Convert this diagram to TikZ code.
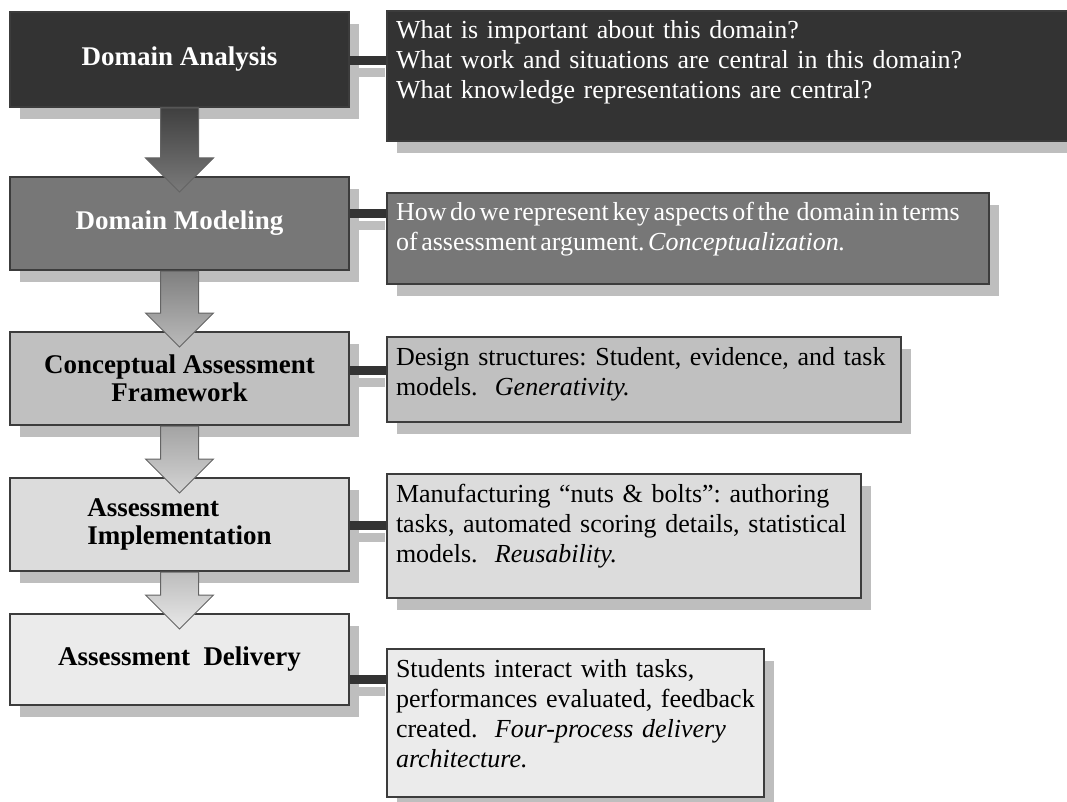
\documentclass[tikz,border=0pt]{standalone}
\usepackage{fontspec}
\setmainfont{Liberation Serif}
\usepackage{tikz}
\usetikzlibrary{positioning, calc, shadows}
\definecolor{StageDark}{RGB}{51,51,51}
\definecolor{StageMid}{RGB}{119,119,119}
\definecolor{StageLight}{RGB}{192,192,192}
\definecolor{StagePale}{RGB}{220,220,220}
\definecolor{StageWhite}{RGB}{235,235,235}
\definecolor{EdgeGray}{RGB}{60,60,60}
\definecolor{ShadeGray}{RGB}{190,190,190}
\definecolor{ArrowEdge}{RGB}{100,100,100}

\tikzset{
  stagebox/.style={draw=EdgeGray, line width=2pt, fill=#1,
    minimum width=339pt, minimum height=93pt, inner sep=0pt,
    align=center, font=\fontsize{27}{28}\selectfont\bfseries,
    drop shadow={shadow xshift=10pt, shadow yshift=-12pt,
                 fill=ShadeGray, opacity=1}},
  notebox/.style n args={3}{draw=EdgeGray, line width=2pt, fill=#1,
    anchor=north west, align=left, text width=#2,
    inner xsep=9pt, inner ysep=0pt, text height=28pt, text depth=#3,
    font=\fontsize{26}{30}\selectfont\frenchspacing,
    drop shadow={shadow xshift=10pt, shadow yshift=-12pt,
                 fill=ShadeGray, opacity=1}},
  linkbar/.style={draw=StageDark, line width=9pt},
  linkshade/.style={draw=ShadeGray, line width=9pt},
  flowarrow/.style={draw=ArrowEdge, line width=1pt, line join=miter}
}

\begin{document}
\begin{tikzpicture}[x=1pt, y=-1pt]
\useasboundingbox (0,0) rectangle (1067,802);

% Process stages (left column)
\node[stagebox=StageDark, text=white, minimum height=95pt] (da) at (179.5,59.5) {Domain Analysis};
\node[stagebox=StageMid, text=white, below=68pt of da] (dm) {Domain Modeling};
\node[stagebox=StageLight, below=60pt of dm] (caf) {Conceptual Assessment\\Framework};
\node[stagebox=StagePale, align=left, below=51pt of caf] (ai) {Assessment\\Implementation};
\node[stagebox=StageWhite, minimum height=91pt, below=41pt of ai] (ad) {Assessment\ \ Delivery};

% Descriptions (right column)
\node[notebox={StageDark}{671pt}{102pt}, text=white] (dq) at (386,10)
  {What is important about this domain?\\What work and situations are central in this domain?\\What knowledge representations are central?};
\node[notebox={StageMid}{584pt}{63pt}, text=white] (mq) at (386,192)
  {\spaceskip=3.6pt How do we represent key aspects of the\ \ domain in terms\\of assessment argument. \textit{Conceptualization.}};
\node[notebox={StageLight}{496pt}{57pt}] (cq) at (386,336)
  {Design structures: Student, evidence, and task\\models.\ \ \textit{Generativity.}};
\node[notebox={StagePale}{456pt}{96pt}] (iq) at (386,473)
  {Manufacturing “nuts \& bolts”: authoring\\tasks, automated scoring details, statistical\\models.\ \ \textit{Reusability.}};
\node[notebox={StageWhite}{359pt}{120pt}] (dlq) at (386,648)
  {Students interact with tasks,\\performances evaluated, feedback\\created.\ \ \textit{Four-process delivery}\\\textit{architecture.}};

% Connectors: stage -> description
\foreach \src/\dst/\dy in {da/dq/1.5, dm/mq/-9.5, caf/cq/-8, ai/iq/1, ad/dlq/20}{
  \coordinate (\src-out) at ($(\src.east)+(0,\dy)$);
  \draw[linkshade] ($(\src-out)+(1,12)$) -- ($(\src-out -| \dst.west)+(-1,12)$);
  \draw[linkbar] (\src-out) -- (\src-out -| \dst.west);
}

% Flow arrows between stages
\foreach \src/\dst/\topc/\botc in {da/dm/black!75/black!52, dm/caf/black!50/black!27,
                                   caf/ai/black!36/black!17, ai/ad/black!26/black!9}{
  \draw[flowarrow, top color=\topc, bottom color=\botc]
    ($(\src.south)+(-19,0)$) -- ($(\dst.north)+(-19,-18)$)
    -- ($(\dst.north)+(-34,-18)$) -- ($(\dst.north)+(0,16)$)
    -- ($(\dst.north)+(34,-18)$) -- ($(\dst.north)+(19,-18)$)
    -- ($(\src.south)+(19,0)$) -- cycle;
}

\end{tikzpicture}
\end{document}
